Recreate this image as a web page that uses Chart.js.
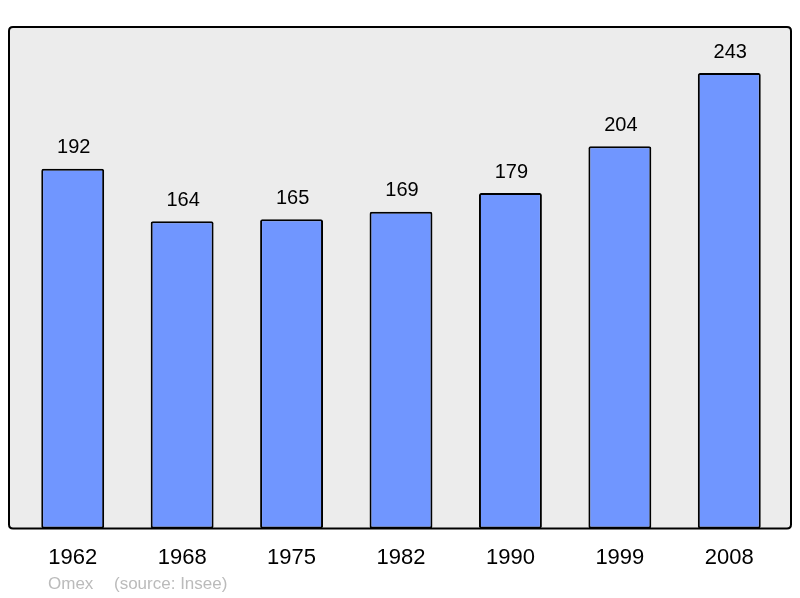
<!DOCTYPE html>
<html>
<head>
<meta charset="utf-8">
<script src="https://cdn.jsdelivr.net/npm/chart.js@4/dist/chart.umd.min.js"></script>
<style>
  html, body { margin: 0; padding: 0; background: #fff; }
  #wrap { width: 800px; height: 598px; }
</style>
</head>
<body>
<div id="wrap"><canvas id="myChart" width="800" height="598"></canvas></div>
<script>
// Données : population par année de recensement
const annees = ['1962', '1968', '1975', '1982', '1990', '1999', '2008'];
const population = [192, 164, 165, 169, 179, 204, 243];
const yMax = 267.6; // haut du cadre gris

// cadre gris arrondi derrière les barres
const fondPlugin = {
    id: 'fond',
    beforeDraw(chart) {
        const { ctx, chartArea: a } = chart;
        const x = a.left - 9, y = a.top, w = a.right - a.left + 16, h = a.bottom - a.top, r = 4;
        ctx.save();
        ctx.beginPath();
        ctx.moveTo(x + r, y);
        ctx.lineTo(x + w - r, y);
        ctx.quadraticCurveTo(x + w, y, x + w, y + r);
        ctx.lineTo(x + w, y + h - r);
        ctx.quadraticCurveTo(x + w, y + h, x + w - r, y + h);
        ctx.lineTo(x + r, y + h);
        ctx.quadraticCurveTo(x, y + h, x, y + h - r);
        ctx.lineTo(x, y + r);
        ctx.quadraticCurveTo(x, y, x + r, y);
        ctx.closePath();
        ctx.fillStyle = '#ececec';
        ctx.fill();
        ctx.lineWidth = 2;
        ctx.strokeStyle = '#000';
        ctx.stroke();
        ctx.restore();
    }
};

// valeurs au-dessus des barres + source
const etiquettesPlugin = {
    id: 'etiquettes',
    afterDatasetsDraw(chart) {
        const { ctx } = chart;
        const meta = chart.getDatasetMeta(0);
        ctx.save();
        ctx.font = '20px "Liberation Sans", Arial, sans-serif';
        ctx.fillStyle = '#000';
        ctx.textAlign = 'center';
        ctx.textBaseline = 'middle';
        meta.data.forEach((bar, i) => {
            ctx.fillText(String(population[i]), bar.x + 1, bar.y - 21);
        });
        ctx.font = '17px "Liberation Sans", Arial, sans-serif';
        ctx.fillStyle = '#bbbbbb';
        ctx.textAlign = 'left';
        ctx.fillText('Omex', 48, 584);
        ctx.fillText('(source: Insee)', 114, 584);
        ctx.restore();
    }
};

new Chart(document.getElementById('myChart'), {
    type: 'bar',
    data: {
        labels: annees,
        datasets: [{
            data: population,
            backgroundColor: '#7096ff',
            borderColor: '#000',
            borderWidth: 2,
            borderSkipped: false,
            borderRadius: 2,
            barPercentage: 0.575,
            categoryPercentage: 1
        }]
    },
    options: {
        responsive: false,
        animation: false,
        layout: { padding: { left: 18, right: 16, top: 27, bottom: 11 } },
        plugins: {
            legend: { display: false },
            tooltip: { enabled: false }
        },
        scales: {
            x: {
                grid: { display: false, drawTicks: false },
                border: { display: false },
                ticks: {
                    color: '#000',
                    padding: 16,
                    font: { size: 22, family: '"Liberation Sans", Arial, sans-serif' }
                }
            },
            y: {
                display: false,
                min: 0,
                max: yMax
            }
        }
    },
    plugins: [fondPlugin, etiquettesPlugin]
});
</script>
</body>
</html>
